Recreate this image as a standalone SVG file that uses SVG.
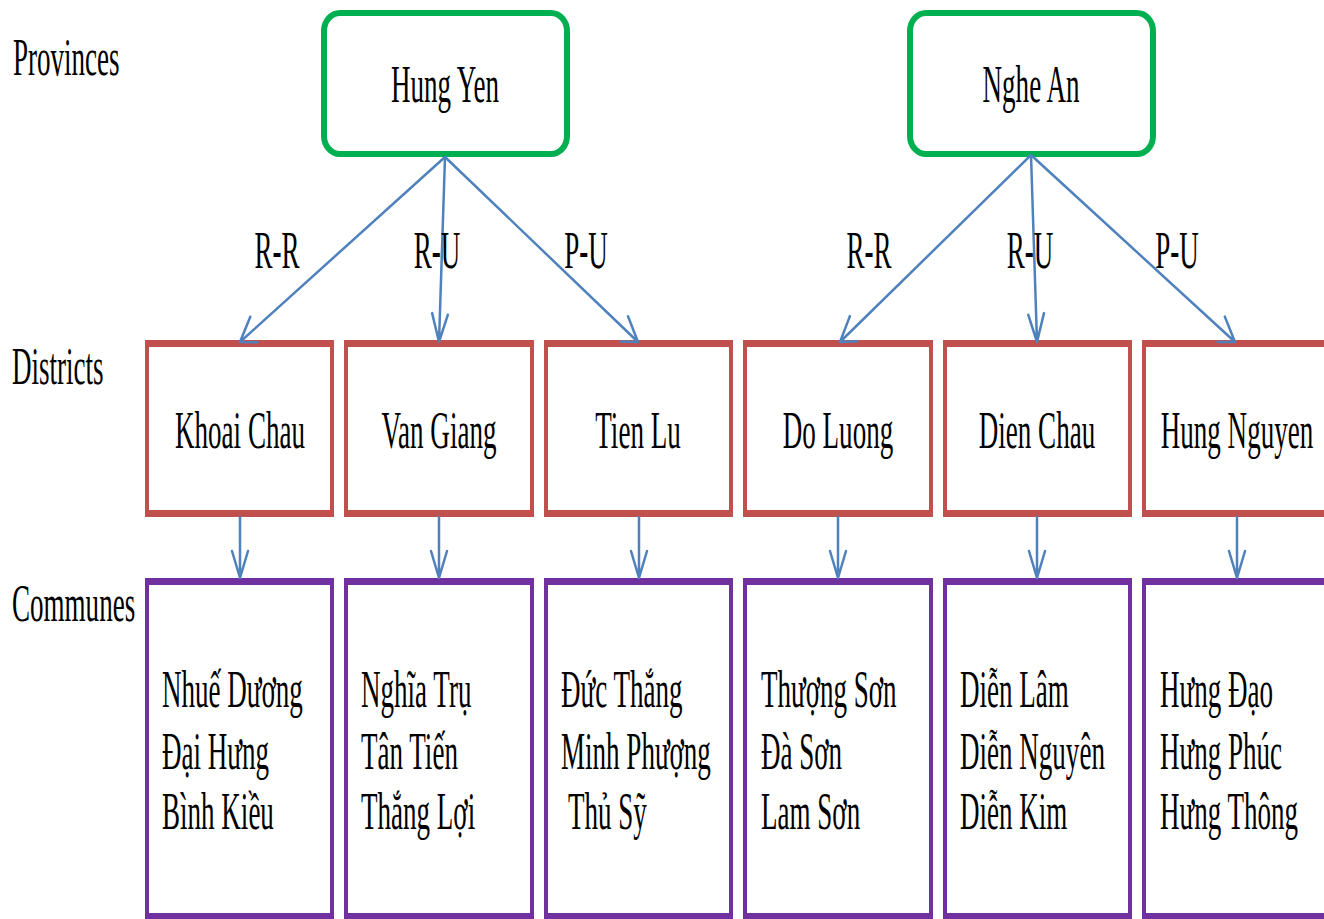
<svg xmlns="http://www.w3.org/2000/svg" width="1324" height="919" viewBox="0 0 1324 919">
<style>
text{font-family:"Liberation Serif","Times New Roman",serif;font-size:52px;fill:#000}
.m{text-anchor:middle}
.prov{fill:#fff;stroke:#00B050;stroke-width:6}
.dist{fill:#C0504D;fill-rule:evenodd}
.comm{fill:#7030A0;fill-rule:evenodd}
.ln{fill:none;stroke:#4F81BD;stroke-width:2.5;stroke-linecap:round;stroke-linejoin:round}
</style>
<rect width="1324" height="919" fill="#fff"/>
<g id="levels">
<text transform="translate(13,75) scale(0.52,1)">Provinces</text>
<text transform="translate(12,384) scale(0.52,1)">Districts</text>
<text transform="translate(12,621) scale(0.52,1)">Communes</text>
</g>
<g id="hung-yen"><rect class="prov" x="324" y="13" width="243" height="141" rx="16" ry="18"/><text class="m" transform="translate(445,102) scale(0.52,1)">Hung Yen</text></g>
<g id="nghe-an"><rect class="prov" x="910" y="13" width="243" height="141" rx="16" ry="18"/><text class="m" transform="translate(1031,102) scale(0.52,1)">Nghe An</text></g>

<g id="khoai-chau"><path class="dist" d="M145 340H334V517H145Z M149 347V510H330V347Z"/><text class="m" transform="translate(240,448) scale(0.52,1)">Khoai Chau</text></g>
<g id="van-giang"><path class="dist" d="M344 340H534V517H344Z M348 347V510H530V347Z"/><text class="m" transform="translate(439,448) scale(0.52,1)">Van Giang</text></g>
<g id="tien-lu"><path class="dist" d="M544 340H733V517H544Z M548 347V510H729V347Z"/><text class="m" transform="translate(638,448) scale(0.52,1)">Tien Lu</text></g>
<g id="do-luong"><path class="dist" d="M743 340H933V517H743Z M747 347V510H929V347Z"/><text class="m" transform="translate(838,448) scale(0.52,1)">Do Luong</text></g>
<g id="dien-chau"><path class="dist" d="M943 340H1132V517H943Z M947 347V510H1128V347Z"/><text class="m" transform="translate(1037,448) scale(0.52,1)">Dien Chau</text></g>
<g id="hung-nguyen"><path class="dist" d="M1142 340H1340V517H1142Z M1146 347V510H1336V347Z"/><text class="m" transform="translate(1237,448) scale(0.52,1)">Hung Nguyen</text></g>

<g id="communes-khoai-chau"><path class="comm" d="M145 578H334V925H145Z M149 585V913H330V585Z"/>
<text transform="translate(162,707) scale(0.52,1)">Nhuế Dương</text>
<text transform="translate(162,769) scale(0.52,1)">Đại Hưng</text>
<text transform="translate(162,829) scale(0.52,1)">Bình Kiều</text></g>
<g id="communes-van-giang"><path class="comm" d="M344 578H534V925H344Z M348 585V913H530V585Z"/>
<text transform="translate(361,707) scale(0.52,1)">Nghĩa Trụ</text>
<text transform="translate(361,769) scale(0.52,1)">Tân Tiến</text>
<text transform="translate(361,829) scale(0.52,1)">Thắng Lợi</text></g>
<g id="communes-tien-lu"><path class="comm" d="M544 578H733V925H544Z M548 585V913H729V585Z"/>
<text transform="translate(561,707) scale(0.52,1)">Đức Thắng</text>
<text transform="translate(561,769) scale(0.52,1)">Minh Phượng</text>
<text transform="translate(568,829) scale(0.52,1)">Thủ Sỹ</text></g>
<g id="communes-do-luong"><path class="comm" d="M743 578H933V925H743Z M747 585V913H929V585Z"/>
<text transform="translate(761,707) scale(0.52,1)">Thượng Sơn</text>
<text transform="translate(761,769) scale(0.52,1)">Đà Sơn</text>
<text transform="translate(761,829) scale(0.52,1)">Lam Sơn</text></g>
<g id="communes-dien-chau"><path class="comm" d="M943 578H1132V925H943Z M947 585V913H1128V585Z"/>
<text transform="translate(960,707) scale(0.52,1)">Diễn Lâm</text>
<text transform="translate(960,769) scale(0.52,1)">Diễn Nguyên</text>
<text transform="translate(960,829) scale(0.52,1)">Diễn Kim</text></g>
<g id="communes-hung-nguyen"><path class="comm" d="M1142 578H1340V925H1142Z M1146 585V913H1336V585Z"/>
<text transform="translate(1160,707) scale(0.52,1)">Hưng Đạo</text>
<text transform="translate(1160,769) scale(0.52,1)">Hưng Phúc</text>
<text transform="translate(1160,829) scale(0.52,1)">Hưng Thông</text></g>

<g id="connectors">
<path class="ln" d="M445 157L240 342M257.3 342.3L240 342L250.3 316.7"/>
<path class="ln" d="M445 157L439 342M447.8 314.8L439 342L432.1 313.1"/>
<path class="ln" d="M445 157L638 342M628 316.3L638 342L620.7 341.6"/>
<path class="ln" d="M1031 155L840 342M857.3 341.3L840 342L849.9 316.1"/>
<path class="ln" d="M1031 155L1037 342M1044 313.1L1037 342L1028.3 314.8"/>
<path class="ln" d="M1031 155L1235 342M1224.8 316.6L1235 342L1217.7 342.1"/>
<path class="ln" d="M240 517V578M232 551L240 578L248 551"/>
<path class="ln" d="M439 517V578M431 551L439 578L447 551"/>
<path class="ln" d="M639 517V578M631 551L639 578L647 551"/>
<path class="ln" d="M838 517V578M830 551L838 578L846 551"/>
<path class="ln" d="M1037 517V578M1029 551L1037 578L1045 551"/>
<path class="ln" d="M1237 517V578M1229 551L1237 578L1245 551"/>
</g>
<g id="edge-labels">
<text class="m" transform="translate(277,268) scale(0.52,1)">R-R</text>
<text class="m" transform="translate(437,268) scale(0.52,1)">R-U</text>
<text class="m" transform="translate(586,268) scale(0.52,1)">P-U</text>
<text class="m" transform="translate(869,268) scale(0.52,1)">R-R</text>
<text class="m" transform="translate(1030,268) scale(0.52,1)">R-U</text>
<text class="m" transform="translate(1177,268) scale(0.52,1)">P-U</text>
</g>
</svg>
